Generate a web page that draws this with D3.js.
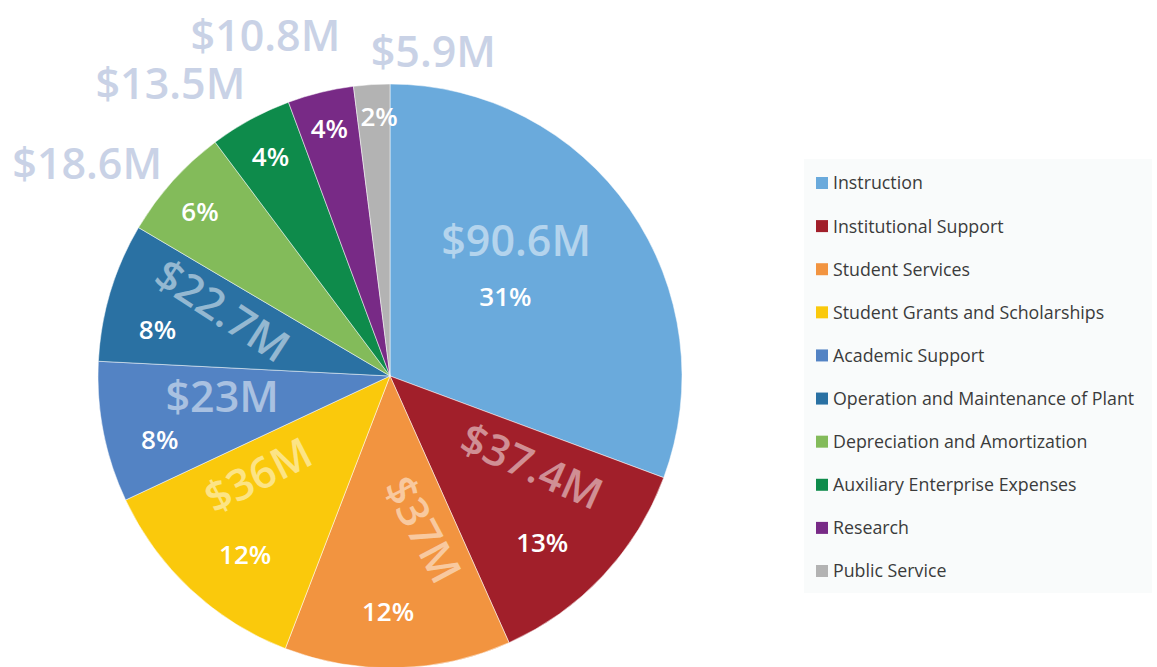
<!DOCTYPE html>
<html>
<head>
<meta charset="utf-8">
<script src="https://cdn.jsdelivr.net/npm/d3@7"></script>
<style>
  body { margin: 0; background: #fff; }
  svg { display: block; font-family: "Open Sans", sans-serif; }
</style>
</head>
<body>
<div id="chart"></div>
<script>
// expense categories and amounts ($M)
var categories = ["Instruction", "Institutional Support", "Student Services",
  "Student Grants and Scholarships", "Academic Support",
  "Operation and Maintenance of Plant", "Depreciation and Amortization",
  "Auxiliary Enterprise Expenses", "Research", "Public Service"];
var amounts = [90.6, 37.4, 37, 36, 23, 22.7, 18.6, 13.5, 10.8, 5.9];
var amountLabels = ["$90.6M", "$37.4M", "$37M", "$36M", "$23M", "$22.7M",
  "$18.6M", "$13.5M", "$10.8M", "$5.9M"];
var percentLabels = ["31%", "13%", "12%", "12%", "8%", "8%", "6%", "4%", "4%", "2%"];
var colors = ["#6aaadc", "#a11f2a", "#f29440", "#fac90c", "#5383c4",
  "#2a71a3", "#83bb5a", "#0e8b4b", "#782a86", "#b3b3b3"];

var svgWidth = 1157;
var svgHeight = 667;
var cx = 390, cy = 376, radius = 292;

// label placement relative to each slice: angle nudge (deg), radius, rotation
var amountPlace = [
  {da: -12.2, r: 185, rot: 0, outside: false},
  {da: -10.8, r: 168, rot: 24, outside: false},
  {da: -10.6, r: 157, rot: 62, outside: false},
  {da: 10.2, r: 165, rot: -27, outside: false},
  {da: 4.3, r: 169, rot: 0, outside: false},
  {da: 4.7, r: 180, rot: 33, outside: false},
  {da: -6.8, r: 370, rot: 0, outside: true},
  {da: -8.3, r: 366, rot: 0, outside: true},
  {da: -6.3, r: 363, rot: 0, outside: true},
  {da: 11.2, r: 327, rot: 0, outside: true}
];
var percentPlace = [
  {da: 0.3, r: 140}, {da: 4.5, r: 226}, {da: 2, r: 236}, {da: -3.9, r: 230},
  {da: -4.4, r: 239}, {da: -5.5, r: 237}, {da: -1.1, r: 251}, {da: 0, r: 250},
  {da: 0, r: 255}, {da: 1.2, r: 260}
];

var svg = d3.select("#chart")
  .append("svg")
  .attr("width", svgWidth)
  .attr("height", svgHeight);

var pieGroup = svg.append("g")
  .attr("transform", `translate(${cx}, ${cy})`);

var pie = d3.pie().sort(null).value(d => d);
var arcs = pie(amounts);

var arc = d3.arc().innerRadius(0).outerRadius(radius);

pieGroup.selectAll("path.slice")
  .data(arcs)
  .enter()
  .append("path")
  .attr("class", "slice")
  .attr("d", arc)
  .attr("fill", (d, i) => colors[i])
  .attr("stroke", "#ffffff")
  .attr("stroke-width", 0.5);

function polar(d, place) {
  var a = (d.startAngle + d.endAngle) / 2 + place.da * Math.PI / 180;
  return [place.r * Math.sin(a), -place.r * Math.cos(a)];
}

// big dollar labels
pieGroup.selectAll("text.amount")
  .data(arcs)
  .enter()
  .append("text")
  .attr("class", "amount")
  .attr("transform", function(d, i) {
    var p = polar(d, amountPlace[i]);
    return `translate(${p[0]}, ${p[1]}) rotate(${amountPlace[i].rot})`;
  })
  .attr("text-anchor", "middle")
  .attr("dy", "0.36em")
  .attr("font-size", 43)
  .attr("font-weight", 600)
  .attr("fill", (d, i) => amountPlace[i].outside ? "#c9d2e6" : "#ffffff")
  .attr("fill-opacity", (d, i) => amountPlace[i].outside ? 1 : 0.5)
  .text((d, i) => amountLabels[i]);

// percent labels
pieGroup.selectAll("text.pct")
  .data(arcs)
  .enter()
  .append("text")
  .attr("class", "pct")
  .attr("transform", function(d, i) {
    var p = polar(d, percentPlace[i]);
    return `translate(${p[0]}, ${p[1]})`;
  })
  .attr("text-anchor", "middle")
  .attr("dy", "0.36em")
  .attr("font-size", 26)
  .attr("font-weight", 600)
  .attr("fill", "#ffffff")
  .text((d, i) => percentLabels[i]);

// legend
var legend = svg.append("g");

legend.append("rect")
  .attr("x", 804)
  .attr("y", 159)
  .attr("width", 348)
  .attr("height", 434)
  .attr("fill", "#f9fbfb");

var legendY = d3.scalePoint()
  .domain(categories)
  .range([183, 571]);

var items = legend.selectAll("g.item")
  .data(categories)
  .enter()
  .append("g")
  .attr("class", "item")
  .attr("transform", d => `translate(816, ${legendY(d)})`);

items.append("rect")
  .attr("x", 0)
  .attr("y", -6)
  .attr("width", 12)
  .attr("height", 12)
  .attr("fill", (d, i) => colors[i]);

items.append("text")
  .attr("x", 17)
  .attr("dy", "0.36em")
  .attr("font-size", 17.8)
  .attr("fill", "#3b3b3b")
  .text(d => d);
</script>
</body>
</html>
